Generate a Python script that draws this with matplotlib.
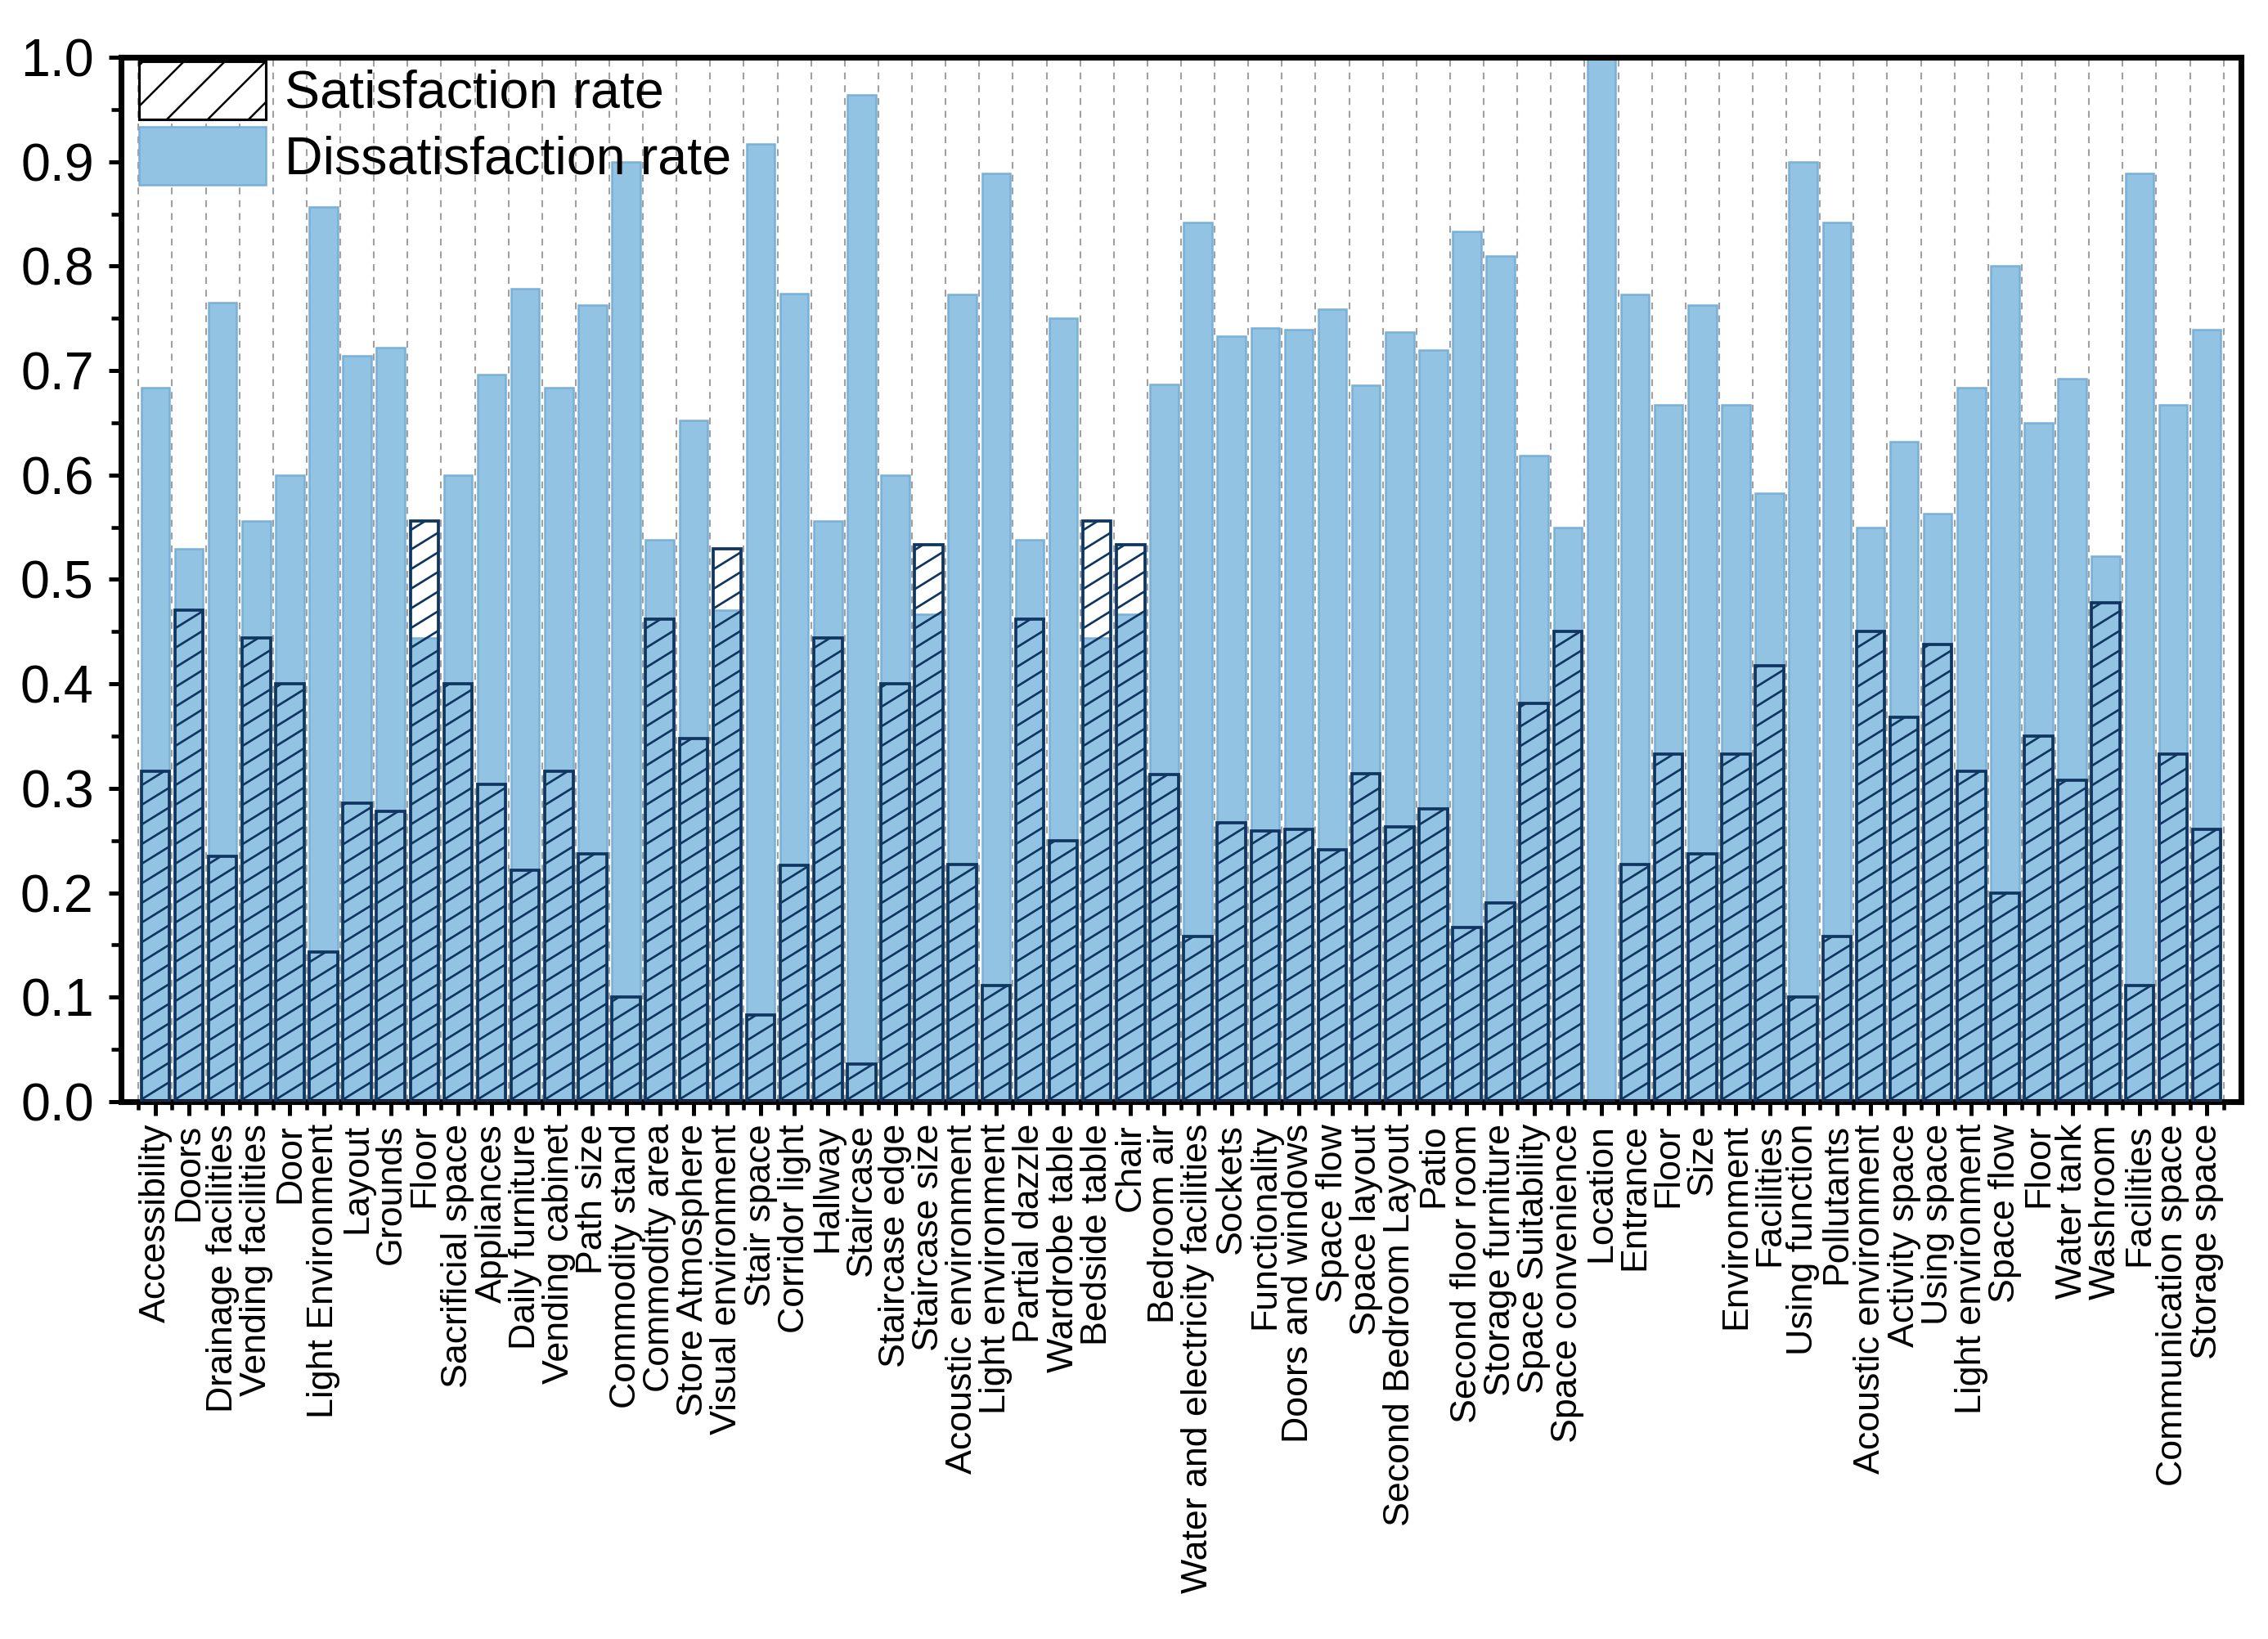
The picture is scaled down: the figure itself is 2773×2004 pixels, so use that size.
import matplotlib
matplotlib.use("Agg")
import matplotlib.pyplot as plt
import numpy as np
from matplotlib.patches import Patch
from matplotlib.collections import LineCollection
from matplotlib.ticker import MultipleLocator, FormatStrFormatter

plt.rcParams["font.family"] = ["Liberation Sans", "DejaVu Sans"]
plt.rcParams["hatch.linewidth"] = 1.2

# items, in plotting order
labels = [
    "Accessibility", "Doors", "Drainage facilities", "Vending facilities", "Door",
    "Light Environment", "Layout", "Grounds", "Floor", "Sacrificial space",
    "Appliances", "Daily furniture", "Vending cabinet", "Path size", "Commodity stand",
    "Commodity area", "Store Atmosphere", "Visual environment", "Stair space",
    "Corridor light", "Hallway", "Staircase", "Staircase edge", "Staircase size",
    "Acoustic environment", "Light environment", "Partial dazzle", "Wardrobe table",
    "Bedside table", "Chair", "Bedroom air", "Water and electricity facilities",
    "Sockets", "Functionality", "Doors and windows", "Space flow", "Space layout",
    "Second Bedroom Layout", "Patio", "Second floor room", "Storage furniture",
    "Space Suitability", "Space convenience", "Location", "Entrance", "Floor", "Size",
    "Environment", "Facilities", "Using function", "Pollutants",
    "Acoustic environment", "Activity space", "Using space", "Light environment",
    "Space flow", "Floor", "Water tank", "Washroom", "Facilities",
    "Communication space", "Storage space",
]

satisfaction = [
    0.316, 0.471, 0.235, 0.444, 0.400, 0.143, 0.286, 0.278, 0.556, 0.400,
    0.304, 0.222, 0.316, 0.237, 0.100, 0.462, 0.348, 0.529, 0.083, 0.226,
    0.444, 0.036, 0.400, 0.533, 0.227, 0.111, 0.462, 0.250, 0.556, 0.533,
    0.313, 0.158, 0.267, 0.259, 0.261, 0.241, 0.314, 0.263, 0.280, 0.167,
    0.190, 0.381, 0.450, 0.000, 0.227, 0.333, 0.237, 0.333, 0.417, 0.100,
    0.158, 0.450, 0.368, 0.438, 0.316, 0.200, 0.350, 0.308, 0.478, 0.111,
    0.333, 0.261,
]

dissatisfaction = [
    0.684, 0.529, 0.765, 0.556, 0.600, 0.857, 0.714, 0.722, 0.444, 0.600,
    0.696, 0.778, 0.684, 0.763, 0.900, 0.538, 0.652, 0.471, 0.917, 0.774,
    0.556, 0.964, 0.600, 0.467, 0.773, 0.889, 0.538, 0.750, 0.444, 0.467,
    0.687, 0.842, 0.733, 0.741, 0.739, 0.759, 0.686, 0.737, 0.720, 0.833,
    0.810, 0.619, 0.550, 1.000, 0.773, 0.667, 0.763, 0.667, 0.583, 0.900,
    0.842, 0.550, 0.632, 0.563, 0.684, 0.800, 0.650, 0.692, 0.522, 0.889,
    0.667, 0.739,
]

BLUE = "#93c3e3"
BLUE_EDGE = "#79b0d8"
NAVY = "#0f3660"

W, H, DPI = 2773, 2004, 150
fig = plt.figure(figsize=(W / DPI, H / DPI), dpi=DPI)
ax = fig.add_axes([148 / W, 1 - 1347 / H, (2740 - 148) / W, (1347 - 70) / H])

x = np.arange(len(labels))
xmin, xmax = -1.02, len(labels) + 0.02
ymin, ymax = 0.0, 1.0
ax.set_xlim(xmin, xmax)
ax.set_ylim(ymin, ymax)

# dashed separators between bars
for b in np.arange(-0.5, len(labels), 1.0):
    ax.axvline(b, color="#a0a0a0", lw=1.0, ls=(0, (4, 3.5)), zorder=0)

bw = 0.84
ax.bar(x, dissatisfaction, width=bw, color=BLUE, edgecolor=BLUE_EDGE,
       linewidth=1.2, zorder=2)
sat_bars = ax.bar(x, satisfaction, width=bw, facecolor="none", edgecolor=NAVY,
                  linewidth=1.8, zorder=3)

# shallow diagonal hatch drawn inside each satisfaction bar
px_x = ax.bbox.width / (xmax - xmin)
px_y = ax.bbox.height / (ymax - ymin)
slope = 0.62
spacing = 24.0
for rect in sat_bars.patches:
    h = rect.get_height()
    if h <= 0:
        continue
    x0 = rect.get_x()
    wpx = rect.get_width() * px_x
    hpx = h * px_y
    segs = []
    c = -slope * wpx
    while c < hpx:
        segs.append([(x0, c / px_y), (x0 + wpx / px_x, (c + slope * wpx) / px_y)])
        c += spacing
    lc = LineCollection(segs, colors=NAVY, linewidths=1.3, zorder=3)
    ax.add_collection(lc)
    lc.set_clip_path(rect)

# axes styling
for sp in ax.spines.values():
    sp.set_linewidth(3.4)
ax.yaxis.set_major_locator(MultipleLocator(0.1))
ax.yaxis.set_minor_locator(MultipleLocator(0.05))
ax.yaxis.set_major_formatter(FormatStrFormatter("%.1f"))
ax.set_xticks(x)
ax.set_xticks(np.arange(-0.5, len(labels), 1.0), minor=True)
ax.set_xticklabels(labels, rotation=90, ha="center", va="top")

ax.tick_params(axis="y", which="major", direction="out", length=7, width=2.4,
               labelsize=31, pad=9)
ax.tick_params(axis="y", which="minor", direction="out", length=6, width=2.2)
ax.tick_params(axis="x", which="major", direction="out", length=8, width=2.4,
               labelsize=21.5, pad=5)
ax.tick_params(axis="x", which="minor", direction="out", length=5, width=2.2)

handles = [
    Patch(facecolor="white", edgecolor="black", hatch="/", linewidth=1.5),
    Patch(facecolor=BLUE, edgecolor=BLUE_EDGE, linewidth=1.2),
]
ax.legend(handles, ["Satisfaction rate", "Dissatisfaction rate"],
          loc="upper left", bbox_to_anchor=(0.0085, 0.996), borderaxespad=0,
          borderpad=0, frameon=False, fontsize=31, handlelength=2.4,
          handleheight=1.3, labelspacing=0.15, handletextpad=0.35)

fig.savefig("out.png", dpi=DPI)
